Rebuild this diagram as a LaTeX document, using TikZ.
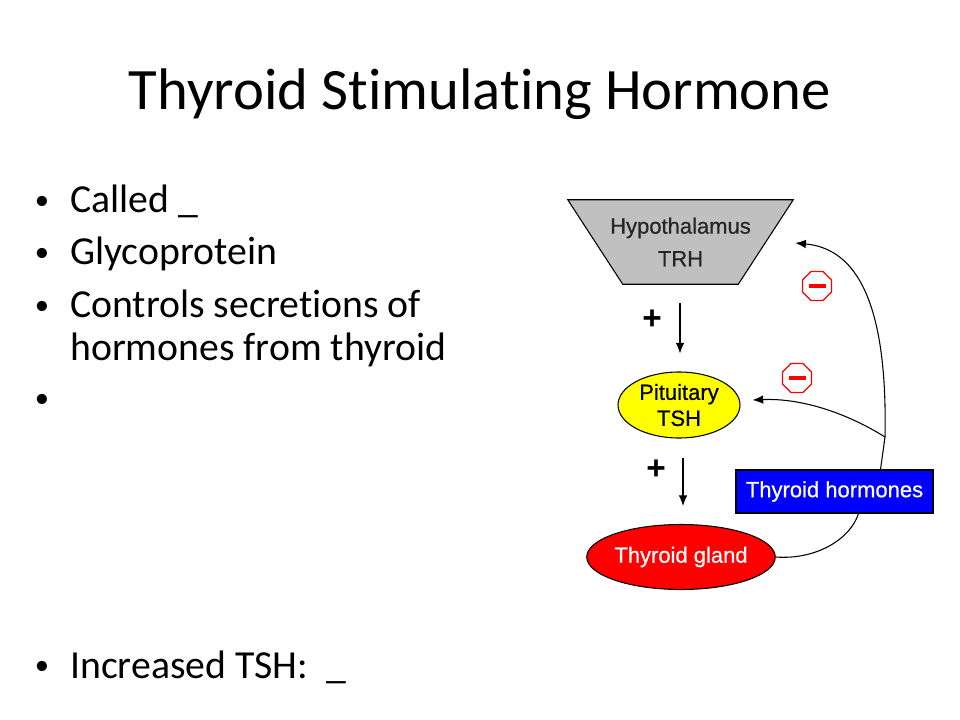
\documentclass[tikz,border=0pt]{standalone}
\usepackage{fontspec}
\setmainfont[Ligatures=NoCommon]{Carlito}
\newfontfamily\arialf[FakeBold=0.6]{Liberation Sans}
\newfontfamily\plainarial{Liberation Sans}
\usetikzlibrary{shapes.geometric,arrows.meta,calc}
\definecolor{hypgray}{RGB}{192,192,192}
\definecolor{pureblue}{RGB}{0,0,255}
\definecolor{pureyellow}{RGB}{255,255,0}
\definecolor{purered}{RGB}{255,0,0}
\tikzset{
  titletext/.style={font=\fontsize{44}{53}\selectfont, anchor=base, inner sep=0pt},
  bullettext/.style={font=\fontsize{29.8}{36}\selectfont, anchor=base west, inner sep=0pt},
  bulletdot/.style={font=\fontsize{21.5}{24}\selectfont, anchor=base, inner sep=0pt},
  diag/.style={font=\arialf\fontsize{16.5}{19.5}\selectfont, align=center, inner sep=0pt},
  ellnode/.style={diag, ellipse, draw=black, line width=0.8pt},
  arr/.style={-{Latex[length=8pt,width=6.5pt]}, line width=0.8pt},
  plussign/.style={font=\plainarial\bfseries\fontsize{25}{25}\selectfont, inner sep=0pt},
  minusoct/.style={regular polygon, regular polygon sides=8, draw=purered, line width=1pt, fill=white, minimum size=23.5pt, inner sep=0pt},
}
\begin{document}
\begin{tikzpicture}[x=0.75pt, y=-0.75pt]
\useasboundingbox (0,0) rectangle (960,720);
% title
\node[titletext] (title) at (480,110) {Thyroid Stimulating Hormone};
% bullets
\node[bulletdot] (b1) at (42,210) {•};
\node[bullettext] (t1) at (70,213) {Called \_};
\node[bulletdot] (b2) at (42,262) {•};
\node[bullettext] (t2) at (70,265) {Glycoprotein};
\node[bulletdot] (b3) at (42,315) {•};
\node[bullettext] (t3a) at (70,317) {Controls secretions of};
\node[bullettext] (t3b) at (70,360) {hormones from thyroid};
\node[bulletdot] (b4) at (42,407) {•};
\node[bulletdot] (b5) at (42,674) {•};
\node[bullettext] (t5) at (70,678) {Increased TSH:\ \ \_};
% diagram
\node[diag, minimum width=168.75pt, minimum height=63pt] (hyp) at (680.5,242) {\phantom{Hypothalamus}};
\fill[hypgray] (hyp.north west) -- (hyp.north east) -- ($(hyp.south east)+(-55,0)$) -- ($(hyp.south west)+(55,0)$) -- cycle;
\draw[line width=0.8pt] (hyp.north west) -- (hyp.north east) -- ($(hyp.south east)+(-55,0)$) -- ($(hyp.south west)+(55,0)$) -- cycle;
\node[diag, text=black!85] (hyptext) at (hyp.center) {Hypothalamus\\[5pt]TRH};
\node[ellnode, fill=pureyellow, minimum width=91.5pt, minimum height=49.5pt] (pit) at (679,405) {Pituitary\\TSH};
\node[ellnode, fill=purered, text=white, minimum width=138pt, minimum height=48.75pt] (tg) at (681,557) {Thyroid gland};
\node[diag, rectangle, draw=black, line width=0.8pt, fill=pureblue, text=white, minimum width=147.75pt, minimum height=32.25pt] (th) at (834.5,491.5) {Thyroid hormones};
% plus signs and stimulatory arrows
\node[plussign] (p1) at (652,320) {+};
\node[plussign] (p2) at (656,470) {+};
\draw[arr] ($(hyp.south)+(-0.5,19)$) -- ($(pit.north)+(1,-18)$);
\draw[arr] ($(pit.south)+(4,19)$) -- ($(tg.north)+(2,-18)$);
% feedback
\coordinate (J) at (885,437);
\draw[line width=0.8pt] (tg.east) .. controls (815,560) and (850,540) .. ($(th.south)+(24,0)$);
\draw[line width=0.8pt] ($(th.north)+(46,0)$) -- (J);
\draw[arr] (J) .. controls (888,290) and (850,248) .. ($(hyp.east)+(2,1)$);
\draw[arr] (J) .. controls (845,412) and (800,398) .. ($(pit.east)+(12,-5)$);
% inhibitory signs
\node[minusoct] (m1) at (817,286) {};
\draw[purered, line width=3pt] ($(m1.center)+(-8.5,0)$) -- ($(m1.center)+(8.5,0)$);
\node[minusoct] (m2) at (797,378) {};
\draw[purered, line width=3pt] ($(m2.center)+(-8.5,0)$) -- ($(m2.center)+(8.5,0)$);
\end{tikzpicture}
\end{document}
